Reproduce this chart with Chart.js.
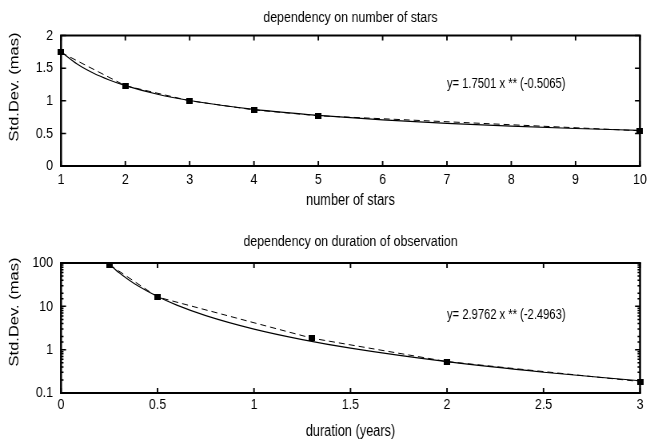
<!DOCTYPE html>
<html><head><meta charset="utf-8">
<script src="https://cdn.jsdelivr.net/npm/chart.js@4/dist/chart.umd.min.js"></script>
<style>
html,body{margin:0;padding:0;background:#fff;}
.box{position:absolute;left:0;width:650px;height:221px;overflow:hidden}
.box canvas{width:650px;height:221px;display:block}
</style>
</head><body>
<div class="box" style="top:0"><canvas id="c1" width="813" height="221" style="width:650px;height:221px"></canvas></div>
<div class="box" style="top:221px"><canvas id="c2" width="813" height="221" style="width:650px;height:221px"></canvas></div>
<script>
const FONT = "'Liberation Sans', Arial, Helvetica, sans-serif";
const SX = 650 / 813;   // horizontal squeeze of the reference figure

// ---- data ----
const starsCount   = [1, 2, 3, 4, 5, 10];
const starsStdDev  = [1.74, 1.23, 1.00, 0.86, 0.77, 0.54];
const starsFitX    = [1, 1.25, 1.5, 1.75, 2, 2.5, 3, 4, 5, 6, 7, 8, 9, 10];
const starsFitY    = [1.750, 1.563, 1.425, 1.318, 1.232, 1.100, 1.003, 0.867, 0.775, 0.706, 0.653, 0.610, 0.575, 0.545];
const durationYears  = [0.25, 0.5, 1.3, 2, 3];
const durationStdDev = [92, 16.4, 1.84, 0.53, 0.184];
const durFitX = [0.25, 0.3, 0.35, 0.4, 0.5, 0.6, 0.75, 1, 1.25, 1.5, 2, 2.5, 3];
const durFitY = [94.8, 60.1, 40.9, 29.3, 16.8, 10.65, 6.10, 2.976, 1.705, 1.082, 0.528, 0.302, 0.192];
const logTickLabels = ['0.1', '1', '10', '100'];
const chartTitles = ['dependency on number of stars', 'dependency on duration of observation'];
const xTitles = ['number of stars', 'duration (years)'];
const yTitle = 'Std.Dev. (mas)';
const fitTexts = ['y= 1.7501 x ** (-0.5065)', 'y= 2.9762 x ** (-2.4963)'];

function isPow10(v){ const l = Math.log10(v); return Math.abs(l - Math.round(l)) < 1e-6; }

// square marker (wider in canvas units so it is square after the squeeze)
const marker = document.createElement('canvas');
marker.width = 8; marker.height = 6;
(function(){ const c = marker.getContext('2d'); c.fillStyle = '#000'; c.fillRect(0, 0, 8, 6); })();

const framePlugin = {
  id: 'frame',
  beforeDatasetsDraw(chart, args, o) {
    const {ctx, chartArea: a, scales: {x, y}} = chart;
    ctx.save();
    ctx.strokeStyle = '#000';
    ctx.lineWidth = 1.5 / SX;
    ctx.beginPath();
    x.ticks.forEach(t => {
      const px = x.getPixelForValue(t.value);
      ctx.moveTo(px, a.bottom); ctx.lineTo(px, a.bottom - 5);
      ctx.moveTo(px, a.top); ctx.lineTo(px, a.top + 5);
    });
    ctx.stroke();
    ctx.lineWidth = 1.5;
    ctx.beginPath();
    y.ticks.forEach(t => {
      const py = y.getPixelForValue(t.value);
      const len = ((y.type !== 'logarithmic' || isPow10(t.value)) ? 5 : 2.5) / SX;
      ctx.moveTo(a.left, py); ctx.lineTo(a.left + len, py);
      ctx.moveTo(a.right, py); ctx.lineTo(a.right - len, py);
    });
    ctx.stroke();
    ctx.lineWidth = 2;
    ctx.beginPath();
    ctx.moveTo(a.left - 1 / SX, a.top); ctx.lineTo(a.right + 1 / SX, a.top);
    ctx.moveTo(a.left - 1 / SX, a.bottom); ctx.lineTo(a.right + 1 / SX, a.bottom);
    ctx.stroke();
    ctx.lineWidth = 2 / SX;
    ctx.beginPath();
    ctx.moveTo(a.left, a.top); ctx.lineTo(a.left, a.bottom);
    ctx.moveTo(a.right, a.top); ctx.lineTo(a.right, a.bottom);
    ctx.stroke();
    ctx.fillStyle = '#000';
    ctx.textBaseline = 'middle';
    ctx.textAlign = 'left';
    ctx.font = '14px ' + FONT;
    ctx.fillText(o.text, x.getPixelForValue(o.x), y.getPixelForValue(o.y));
    ctx.textAlign = 'center';
    ctx.font = '15.5px ' + FONT;
    ctx.fillText(o.title, (a.left + a.right) / 2, o.titleY);
    ctx.translate(15 / SX, o.yTitleY);
    ctx.rotate(-Math.PI / 2);
    ctx.font = '16.5px ' + FONT;
    ctx.fillText(yTitle, 0, 0);
    ctx.restore();
  }
};

function makeChart(id, cfg) {
  return new Chart(document.getElementById(id), {
    type: 'line',
    data: {
      datasets: [
        { data: cfg.px.map((v, i) => ({x: v, y: cfg.py[i]})), borderColor: '#000', borderWidth: 1,
          borderDash: [7.5, 5], pointStyle: marker, pointRadius: 4, clip: false },
        { data: cfg.fx.map((v, i) => ({x: v, y: cfg.fy[i]})), borderColor: '#000', borderWidth: 1.15,
          pointRadius: 0, cubicInterpolationMode: 'monotone' }
      ]
    },
    options: {
      responsive: false, animation: false, events: [],
      layout: { padding: { left: 0, right: 12.5, top: cfg.areaTop, bottom: 0 } },
      plugins: {
        legend: { display: false }, tooltip: { enabled: false }, title: { display: false },
        frame: { text: cfg.fitText, x: cfg.textX, y: cfg.textY, yTitleY: cfg.yTitleY,
                 title: cfg.title, titleY: cfg.titleY }
      },
      scales: {
        x: { type: 'linear', min: cfg.xmin, max: cfg.xmax,
          grid: { display: false, drawTicks: false }, border: { display: false },
          ticks: { stepSize: cfg.xstep, color: '#000', padding: cfg.xTickPad, maxRotation: 0, autoSkip: false,
            font: { family: FONT, size: 15.5 }, callback: v => String(v) },
          title: { display: true, text: cfg.xTitle, color: '#000', font: { family: FONT, size: 16 },
            padding: { top: 0, bottom: cfg.xTitlePad } },
          afterFit: s => { s.height = cfg.xHeight; }
        },
        y: Object.assign({
          grid: { display: false, drawTicks: false }, border: { display: false },
          title: { display: false },
          afterFit: s => { s.width = 61 / SX; }
        }, cfg.y)
      }
    },
    plugins: [framePlugin]
  });
}

makeChart('c1', {
  px: starsCount, py: starsStdDev, fx: starsFitX, fy: starsFitY,
  title: chartTitles[0], titleY: 17.5, areaTop: 35.5,
  fitText: fitTexts[0], textX: 7.0, textY: 1.26, yTitleY: 87,
  xmin: 1, xmax: 10, xstep: 1, xTickPad: 4, xTitle: xTitles[0], xTitlePad: 11, xHeight: 55,
  y: { type: 'linear', min: 0, max: 2,
       ticks: { stepSize: 0.5, color: '#000', padding: 10, font: { family: FONT, size: 15.5 }, callback: v => String(v) } }
});

makeChart('c2', {
  px: durationYears, py: durationStdDev, fx: durFitX, fy: durFitY,
  title: chartTitles[1], titleY: 20.5, areaTop: 42,
  fitText: fitTexts[1], textX: 2.0, textY: 6.3, yTitleY: 91,
  xmin: 0, xmax: 3, xstep: 0.5, xTickPad: 2.5, xTitle: xTitles[1], xTitlePad: 1, xHeight: 49,
  y: { type: 'logarithmic', min: 0.1, max: 100,
       ticks: { color: '#000', padding: 10, autoSkip: false, font: { family: FONT, size: 15.5 },
         callback: v => { const l = Math.round(Math.log10(v)); return isPow10(v) ? logTickLabels[l + 1] : ''; } } }
});
</script>
</body></html>
